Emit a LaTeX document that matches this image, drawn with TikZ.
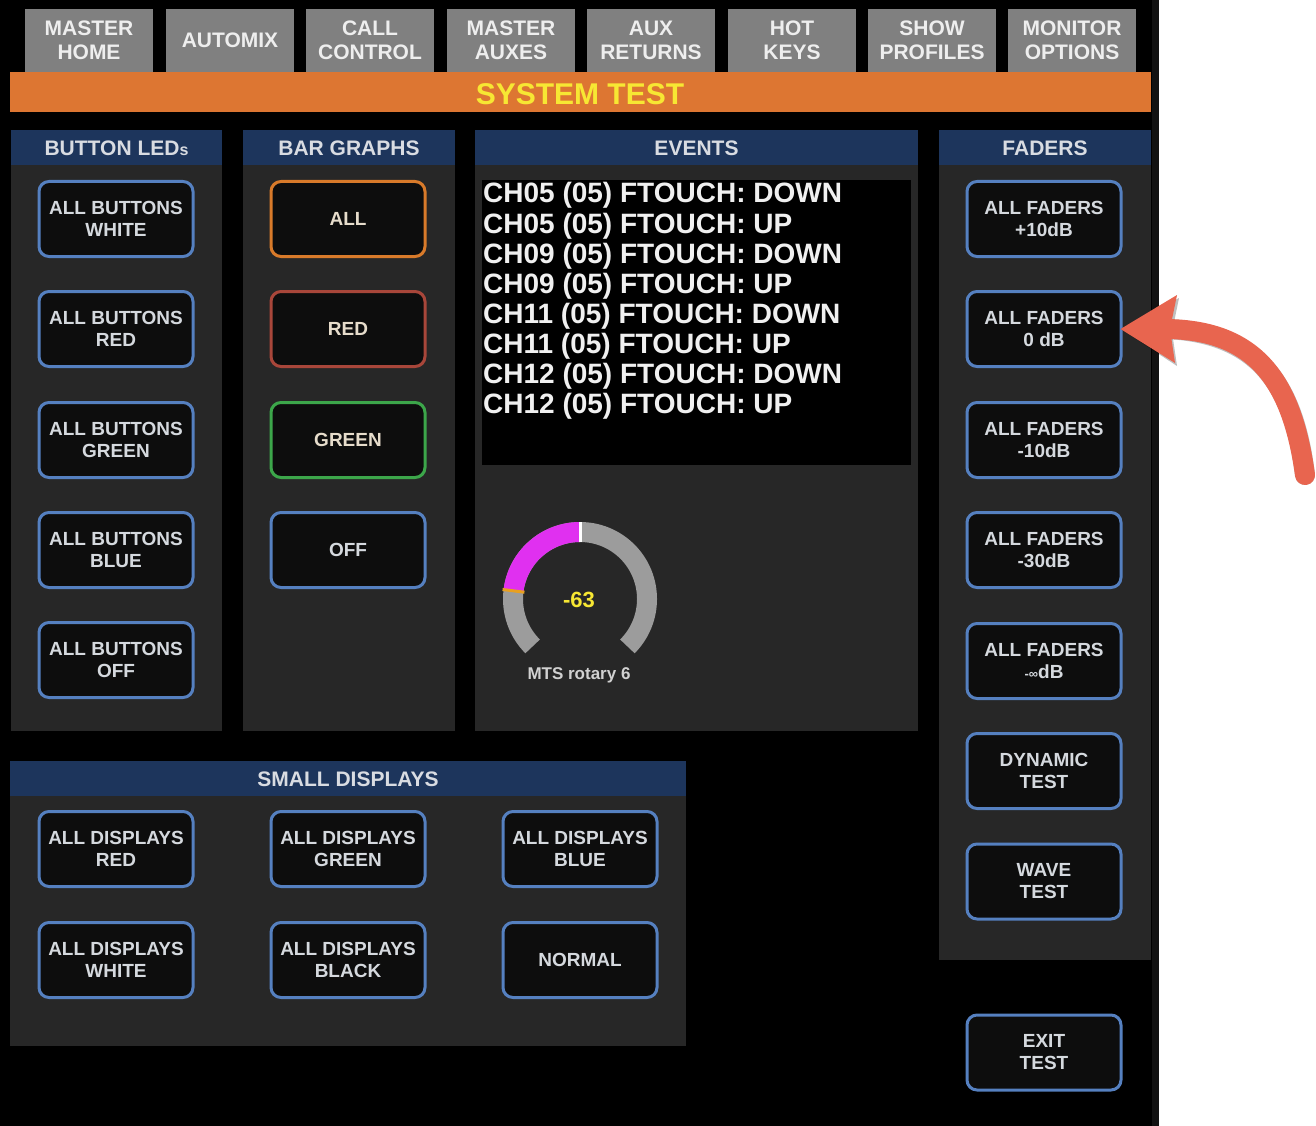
\documentclass[tikz,border=0pt]{standalone}
\usepackage{fontspec}
\setmainfont{Liberation Sans}
\definecolor{tabgray}{HTML}{808080}
\definecolor{tabtext}{HTML}{EEEEEE}
\definecolor{orangebar}{HTML}{DD7632}
\definecolor{titleyellow}{HTML}{F7E733}
\definecolor{hdrblue}{HTML}{1D355C}
\definecolor{hdrtext}{HTML}{D9DCE2}
\definecolor{panelgray}{HTML}{272727}
\definecolor{btnfill}{HTML}{0D0D0D}
\definecolor{btnblue}{HTML}{5580C0}
\definecolor{btntext}{HTML}{D5D9DE}
\definecolor{btnorange}{HTML}{D87A2A}
\definecolor{btnred}{HTML}{A8463A}
\definecolor{btngreen}{HTML}{3CA64A}
\definecolor{warmtext}{HTML}{E6DCCB}
\definecolor{gaugegray}{HTML}{9C9C9C}
\definecolor{gaugemag}{HTML}{E030F0}
\definecolor{gaugeorange}{HTML}{E8A020}
\definecolor{arrowred}{HTML}{E8654F}
\definecolor{edgeblack}{HTML}{121212}
\begin{document}
\begin{tikzpicture}[x=1pt,y=-1pt,
  tabbox/.style={fill=tabgray, minimum width=128pt, minimum height=63pt, inner sep=0pt,
    align=center, text=tabtext, font=\fontsize{21}{24}\selectfont\bfseries},
  hdrlabel/.style={text=hdrtext, inner sep=0pt, font=\fontsize{21}{24}\selectfont\bfseries},
  btn/.style={draw=btnblue, line width=3pt, fill=btnfill, rounded corners=10pt,
    minimum width=154pt, minimum height=75pt, inner sep=0pt, align=center,
    text=btntext, font=\fontsize{19}{22}\selectfont\bfseries},
  evt/.style={anchor=base west, inner sep=0pt, text=white!94!black,
    font=\fontsize{28}{30}\selectfont\bfseries},
  gaugering/.style={line width=20pt},
  arrowline/.style={draw=arrowred, line width=20pt, line cap=round}
]
\useasboundingbox (0,0) rectangle (1316,1126);
\fill[white] (0,0) rectangle (1316,1126);
\fill[black] (0,0) rectangle (1159,1126);
\fill[edgeblack] (1152,0) rectangle (1159,1126);

% tabs
\node[tabbox] (t1) at (89,40.5) {MASTER\\HOME};
\node[tabbox] (t2) at (230,40.5) {AUTOMIX};
\node[tabbox] (t3) at (370,40.5) {CALL\\CONTROL};
\node[tabbox] (t4) at (511,40.5) {MASTER\\AUXES};
\node[tabbox] (t5) at (651,40.5) {AUX\\RETURNS};
\node[tabbox] (t6) at (792,40.5) {HOT\\KEYS};
\node[tabbox] (t7) at (932,40.5) {SHOW\\PROFILES};
\node[tabbox] (t8) at (1072,40.5) {MONITOR\\OPTIONS};

% title bar
\fill[orangebar] (10,72) rectangle (1151,112);
\node[text=titleyellow, inner sep=0pt, font=\fontsize{30}{32}\selectfont\bfseries] (title) at (580,94) {SYSTEM TEST};

% panels
\fill[panelgray] (11,130) rectangle (222,731);
\fill[hdrblue] (11,130) rectangle (222,165);
\node[hdrlabel] (h1) at (116.5,148) {BUTTON LED{\fontsize{16}{18}\selectfont s}};

\fill[panelgray] (243,130) rectangle (455,731);
\fill[hdrblue] (243,130) rectangle (455,165);
\node[hdrlabel] (h2) at (349,148) {BAR GRAPHS};

\fill[panelgray] (475,130) rectangle (918,731);
\fill[hdrblue] (475,130) rectangle (918,165);
\node[hdrlabel] (h3) at (696.5,148) {EVENTS};

\fill[panelgray] (939,130) rectangle (1151,960);
\fill[hdrblue] (939,130) rectangle (1151,165);
\node[hdrlabel] (h4) at (1045,148) {FADERS};

\fill[panelgray] (10,761) rectangle (686,1046);
\fill[hdrblue] (10,761) rectangle (686,796);
\node[hdrlabel] (h5) at (348,779) {SMALL DISPLAYS};

% button LEDs
\node[btn] (b1) at (116,219) {ALL BUTTONS\\WHITE};
\node[btn] (b2) at (116,329) {ALL BUTTONS\\RED};
\node[btn] (b3) at (116,440) {ALL BUTTONS\\GREEN};
\node[btn] (b4) at (116,550) {ALL BUTTONS\\BLUE};
\node[btn] (b5) at (116,660) {ALL BUTTONS\\OFF};

% bar graphs
\node[btn, draw=btnorange, text=warmtext] (g1) at (348,219) {ALL};
\node[btn, draw=btnred, text=warmtext] (g2) at (348,329) {RED};
\node[btn, draw=btngreen, text=warmtext] (g3) at (348,440) {GREEN};
\node[btn] (g4) at (348,550) {OFF};

% events
\fill[black] (482,180) rectangle (911,465);
\node[evt] (e1) at (483,203) {CH05 (05) FTOUCH: DOWN};
\node[evt] (e2) at (483,233) {CH05 (05) FTOUCH: UP};
\node[evt] (e3) at (483,263) {CH09 (05) FTOUCH: DOWN};
\node[evt] (e4) at (483,293) {CH09 (05) FTOUCH: UP};
\node[evt] (e5) at (483,323) {CH11 (05) FTOUCH: DOWN};
\node[evt] (e6) at (483,353) {CH11 (05) FTOUCH: UP};
\node[evt] (e7) at (483,383) {CH12 (05) FTOUCH: DOWN};
\node[evt] (e8) at (483,413) {CH12 (05) FTOUCH: UP};

% gauge
\coordinate (gc) at (580,599);
\draw[gaugering, gaugegray] (gc) ++(-225:67) arc[start angle=-225, end angle=45, radius=67];
\draw[gaugering, gaugemag] (gc) ++(-173:67) arc[start angle=-173, end angle=-90, radius=67];
\draw[white, line width=3pt] (gc) ++(-90:57) -- ++(-90:20);
\draw[gaugeorange, line width=3pt] (gc) ++(-173:56) -- ++(-173:22);
\node[text=titleyellow, inner sep=0pt, font=\fontsize{22}{24}\selectfont\bfseries] (gval) at (579,600) {-63};
\node[text=white!82!black, inner sep=0pt, font=\fontsize{17}{19}\selectfont\bfseries] (glabel) at (579,675) {MTS rotary 6};

% faders
\node[btn] (f1) at (1044,219) {ALL FADERS\\+10dB};
\node[btn] (f2) at (1044,329) {ALL FADERS\\0 dB};
\node[btn] (f3) at (1044,440) {ALL FADERS\\-10dB};
\node[btn] (f4) at (1044,550) {ALL FADERS\\-30dB};
\node[btn] (f5) at (1044,661) {ALL FADERS\\{\fontsize{13}{13}\selectfont -∞}dB};
\node[btn] (f6) at (1044,771) {DYNAMIC\\TEST};
\node[btn] (f7) at (1044,881.5) {WAVE\\TEST};
\node[btn] (f8) at (1044,1052.5) {EXIT\\TEST};

% small displays
\node[btn] (d1) at (116,849) {ALL DISPLAYS\\RED};
\node[btn] (d2) at (348,849) {ALL DISPLAYS\\GREEN};
\node[btn] (d3) at (580,849) {ALL DISPLAYS\\BLUE};
\node[btn] (d4) at (116,960) {ALL DISPLAYS\\WHITE};
\node[btn] (d5) at (348,960) {ALL DISPLAYS\\BLACK};
\node[btn] (d6) at (580,960) {NORMAL};

% arrow
\coordinate (tail) at (1305,475);
\coordinate (shaftend) at (1166,329);
\coordinate (tip) at ([xshift=-2pt]f2.east);
\begin{scope}[shift={(2,3)}, opacity=0.25]
  \draw[arrowline, draw=black] (tail) .. controls (1292,380) and (1255,330) .. (shaftend);
  \fill[black] (tip) -- (1177,295) -- (1170,329) -- (1175,363) -- cycle;
\end{scope}
\draw[arrowline] (tail) .. controls (1292,380) and (1255,330) .. (shaftend);
\fill[arrowred] (tip) -- (1177,295) -- (1170,329) -- (1175,363) -- cycle;
\end{tikzpicture}
\end{document}
